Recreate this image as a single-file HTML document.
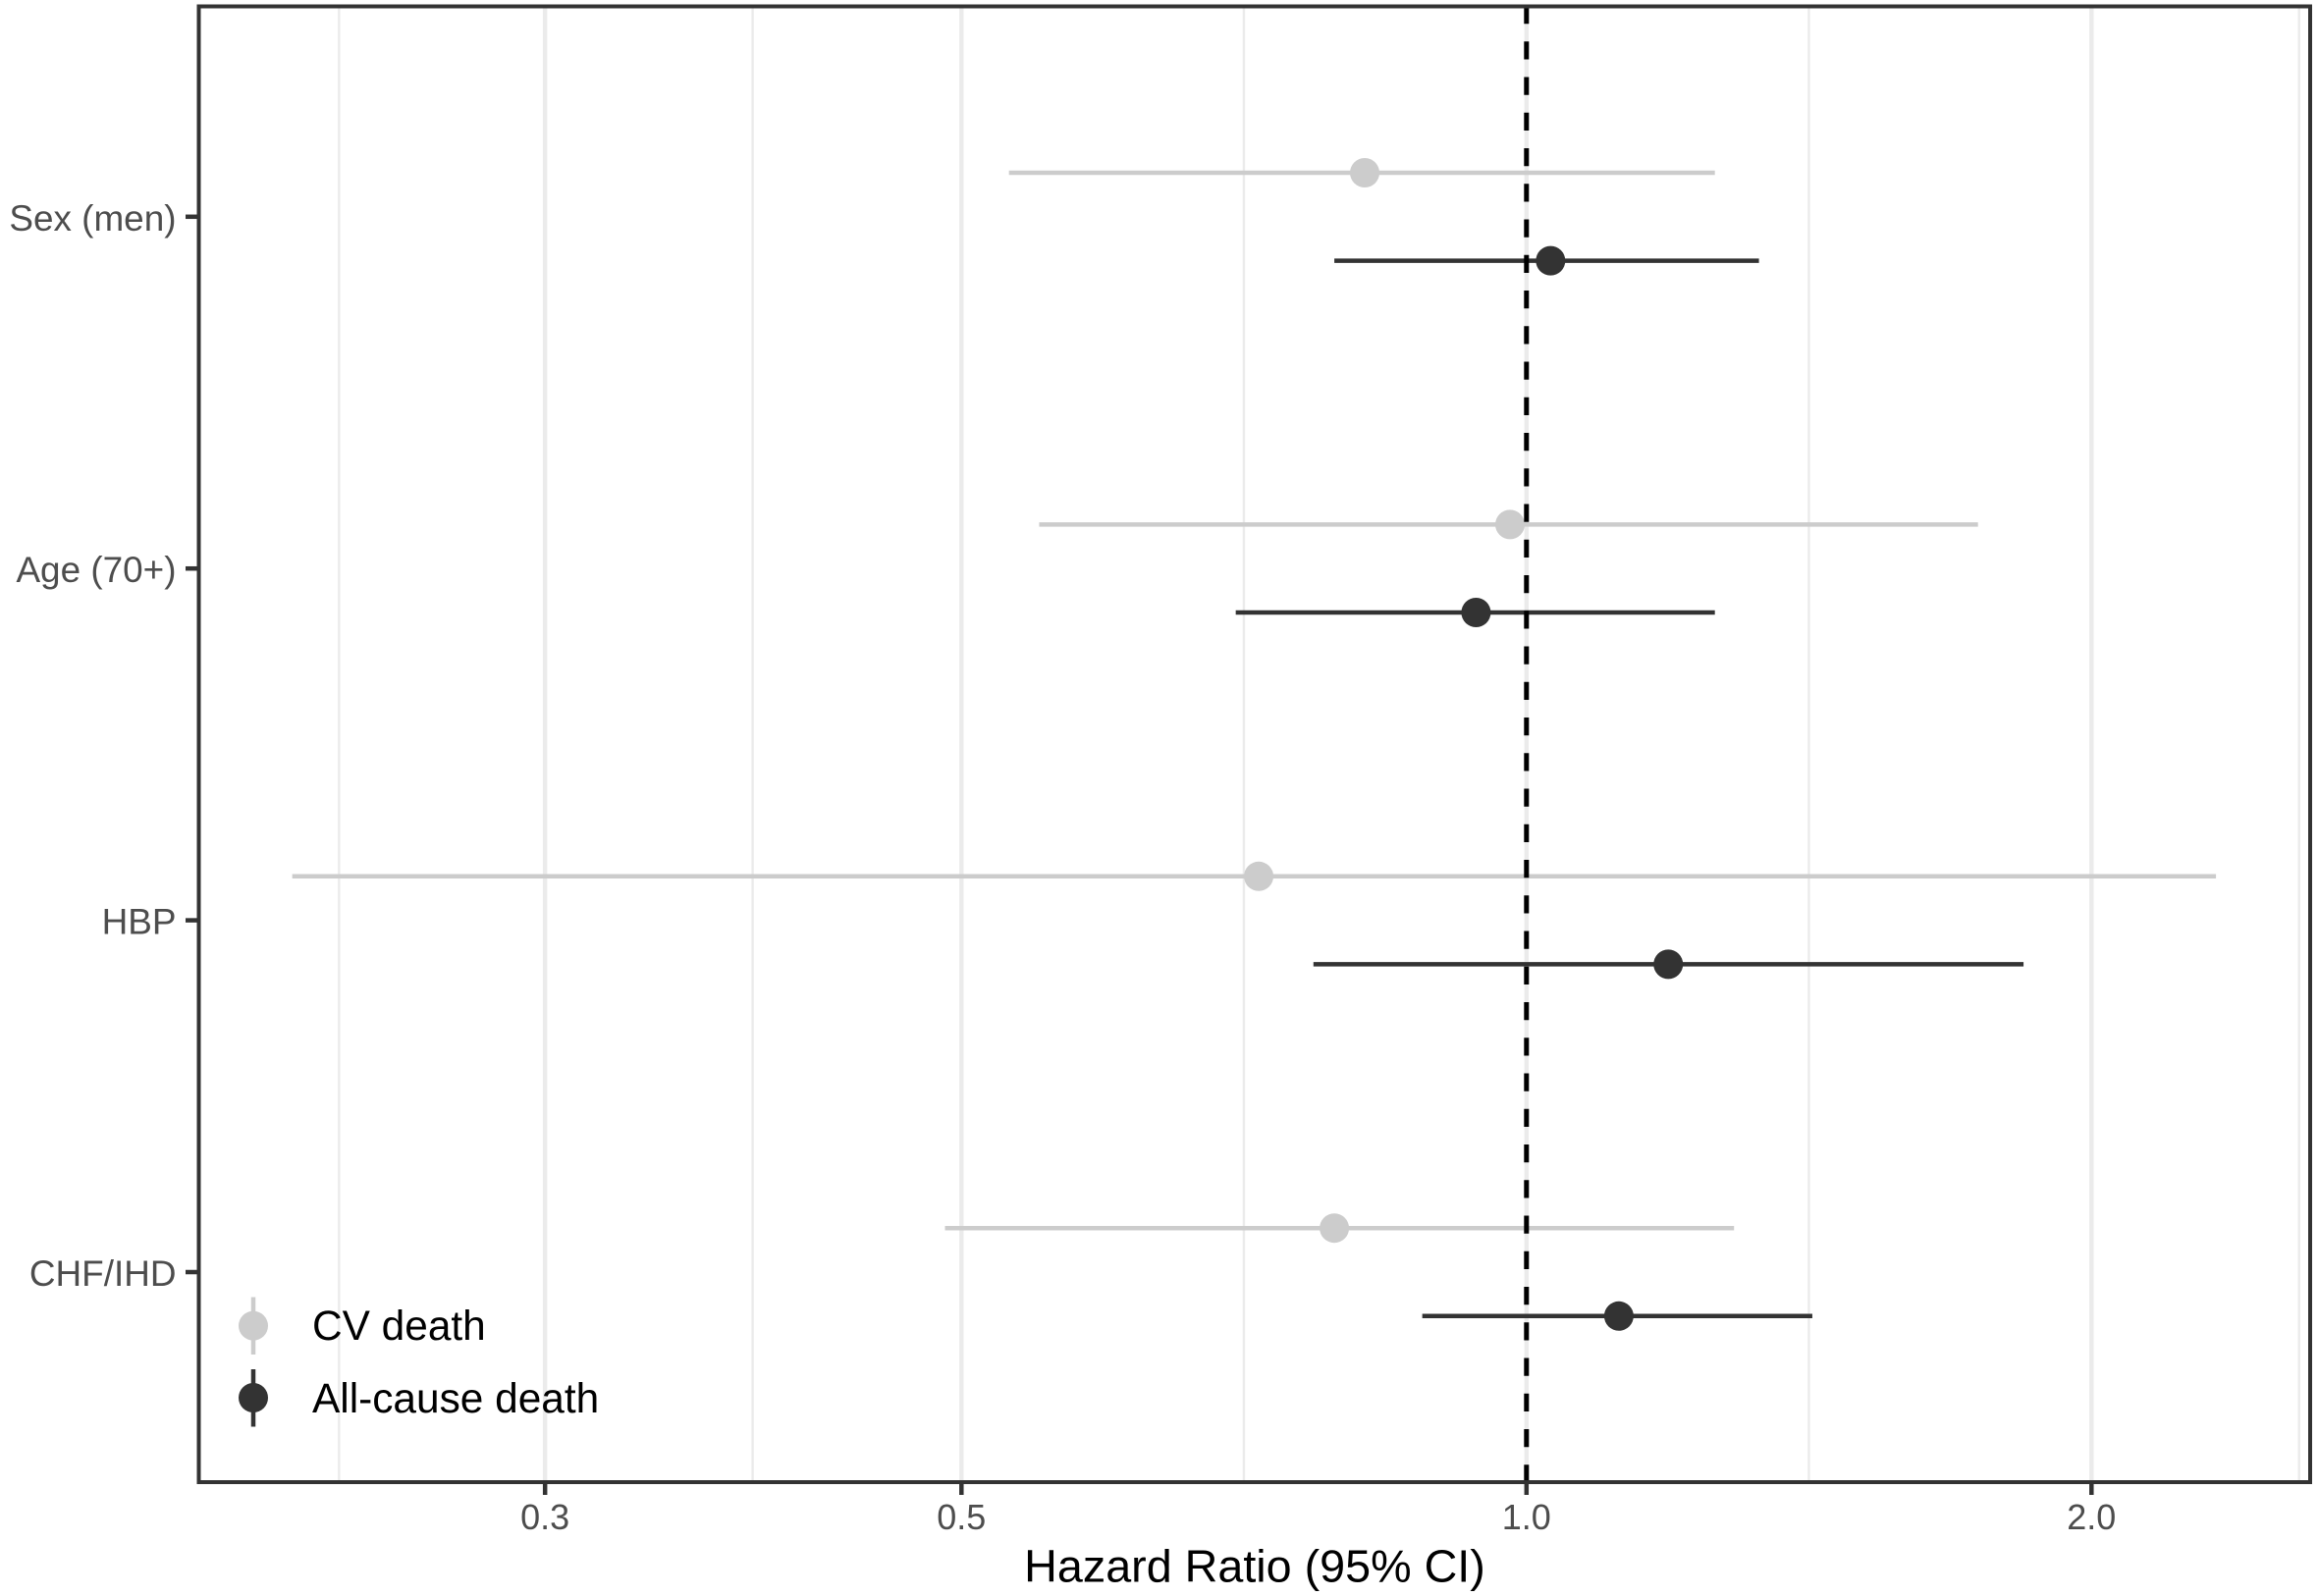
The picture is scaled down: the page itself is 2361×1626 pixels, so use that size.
<!DOCTYPE html>
<html lang="en">
<head>
<meta charset="utf-8">
<title>Hazard Ratio Forest Plot</title>
<style>
  html, body { margin: 0; padding: 0; background: #fff; }
  body { width: 2361px; height: 1626px; overflow: hidden; }
  svg { display: block; font-family: "Liberation Sans", Arial, sans-serif; }
</style>
</head>
<body>
<svg id="chart" xmlns="http://www.w3.org/2000/svg" width="2361" height="1626" viewBox="0 0 2361 1626">
  <rect x="0" y="0" width="2361" height="1626" fill="#ffffff"/>
  <g id="grid"></g>
  <g id="marks"></g>
  <g id="refline"></g>
  <g id="axes"></g>
  <rect x="202.5" y="6.5" width="2150.5" height="1503.5" fill="none" stroke="#333333" stroke-width="4"/>
  <text x="1278" y="1611.5" font-size="46.7" text-anchor="middle" fill="#000000">Hazard Ratio (95% CI)</text>
  <g>
    <g>
      <line x1="258" x2="258" y1="1321.5" y2="1380" stroke="#cccccc" stroke-width="4.5"/>
      <circle cx="258" cy="1350.7" r="15" fill="#cccccc"/>
      <text x="318" y="1365" font-size="42.4" fill="#000000">CV death</text>
    </g>
    <g>
      <line x1="258" x2="258" y1="1395" y2="1453.5" stroke="#333333" stroke-width="4.5"/>
      <circle cx="258" cy="1424" r="15" fill="#333333"/>
      <text x="318" y="1439" font-size="42.4" fill="#000000">All-cause death</text>
    </g>
  </g>
</svg>
<script>
const categories = ["Sex (men)", "Age (70+)", "HBP", "CHF/IHD"];
const xTickValues = [0.3, 0.5, 1.0, 2.0];
const xTickLabels = ["0.3", "0.5", "1.0", "2.0"];
const minorGridValues = [0.233, 0.387, 0.707, 1.414, 2.58];
const referenceValue = 1.0;

const cvHazard = [0.82, 0.98, 0.72, 0.79];
const cvLower = [0.53, 0.55, 0.22, 0.49];
const cvUpper = [1.26, 1.74, 2.33, 1.29];

const allCauseHazard = [1.03, 0.94, 1.19, 1.12];
const allCauseLower = [0.79, 0.70, 0.77, 0.88];
const allCauseUpper = [1.33, 1.26, 1.84, 1.42];

const NS = "http://www.w3.org/2000/svg";
const panelTop = 6.5, panelBottom = 1510, panelLeft = 202.5;

function xScale(v) { return 1554.8 + 575.5 * Math.log2(v); }
function yScale(i) { return 220.8 + 358.4 * i; }
const dodge = 44.8;

function make(tag, attrs, parent) {
  const node = document.createElementNS(NS, tag);
  for (const k in attrs) node.setAttribute(k, attrs[k]);
  parent.appendChild(node);
  return node;
}
function slug(s) {
  return s.toLowerCase().replace(/[^a-z0-9]+/g, '-').replace(/^-|-$/g, '');
}

const grid = document.getElementById('grid');
const marks = document.getElementById('marks');
const refline = document.getElementById('refline');
const axes = document.getElementById('axes');

minorGridValues.forEach(function (v, i) {
  const el = make('line', { x1: xScale(v), x2: xScale(v), y1: panelTop, y2: panelBottom, stroke: '#ebebeb', 'stroke-width': 2.4 }, grid);
  
  
});
xTickValues.forEach(function (v, i) {
  const el = make('line', { x1: xScale(v), x2: xScale(v), y1: panelTop, y2: panelBottom, stroke: '#ebebeb', 'stroke-width': 4.4 }, grid);
  
  
});

function drawSeries(name, color, lower, hazard, upper, offset) {
  categories.forEach(function (cat, i) {
    const y = yScale(i) + offset;
    const bar = make('line', { x1: xScale(lower[i]), x2: xScale(upper[i]), y1: y, y2: y, stroke: color, 'stroke-width': 4.5 }, marks);
    
    
    const pt = make('circle', { cx: xScale(hazard[i]), cy: y, r: 15, fill: color }, marks);
    
    
  });
}
drawSeries('cv-death', '#cccccc', cvLower, cvHazard, cvUpper, -dodge);
drawSeries('all-cause-death', '#333333', allCauseLower, allCauseHazard, allCauseUpper, dodge);

const ref = make('line', { x1: xScale(referenceValue), x2: xScale(referenceValue), y1: 6, y2: panelBottom, stroke: '#000000', 'stroke-width': 5, 'stroke-dasharray': '18.25 18' }, refline);



categories.forEach(function (cat, i) {
  const tick = make('line', { x1: 189, x2: panelLeft, y1: yScale(i), y2: yScale(i), stroke: '#333333', 'stroke-width': 4.5 }, axes);
  
  
  const label = make('text', { x: 179.5, y: yScale(i) + 14, 'font-size': 36.9, 'text-anchor': 'end', fill: '#4d4d4d' }, axes);
  label.textContent = cat;
  
  
});
xTickValues.forEach(function (v, i) {
  const tick = make('line', { x1: xScale(v), x2: xScale(v), y1: panelBottom, y2: 1523, stroke: '#333333', 'stroke-width': 4.5 }, axes);
  
  
  const label = make('text', { x: xScale(v), y: 1558, 'font-size': 36, 'text-anchor': 'middle', fill: '#4d4d4d' }, axes);
  label.textContent = xTickLabels[i];
  
  
});
</script>
</body>
</html>
